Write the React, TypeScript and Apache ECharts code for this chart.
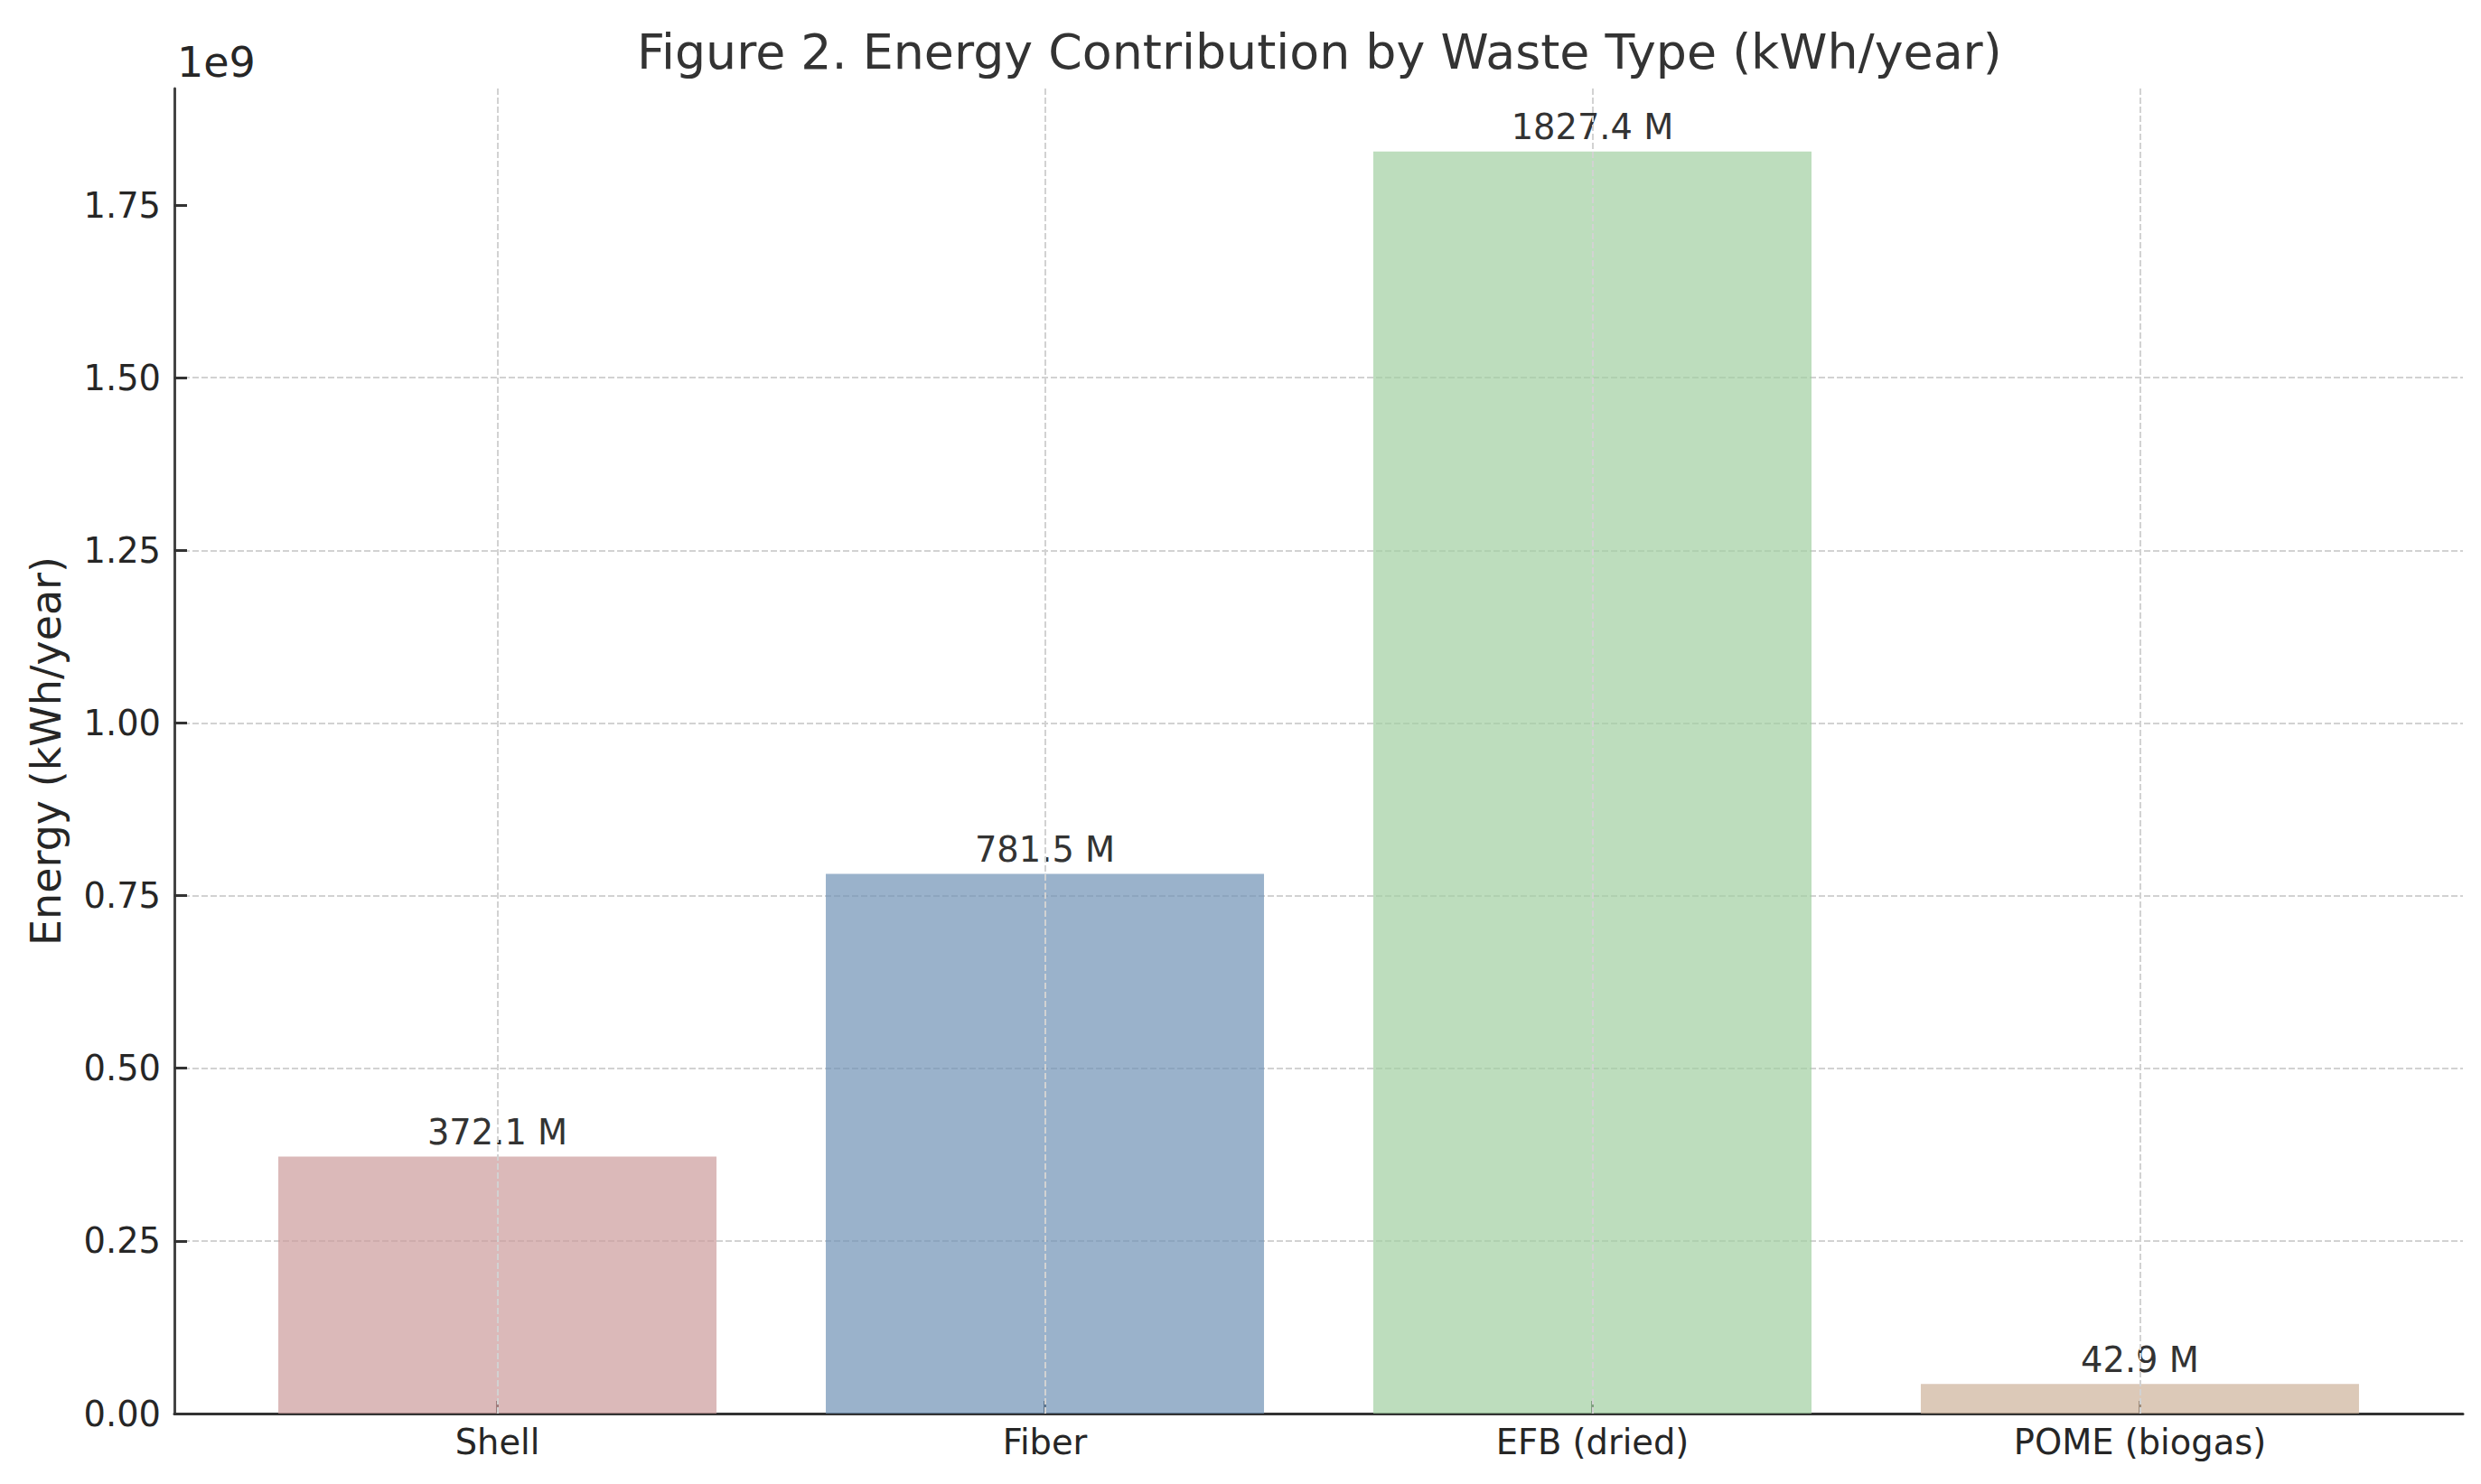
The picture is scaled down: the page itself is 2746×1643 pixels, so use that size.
import React, { useEffect, useRef } from "react";
import * as echarts from "echarts";

const categories = ["Shell", "Fiber", "EFB (dried)", "POME (biogas)"];
const categoryPositions = [0, 1, 2, 3];
const energyKWh = [372.1e6, 781.5e6, 1827.4e6, 42.9e6];
const barColors = [
  "rgba(204,155,155,0.7)",
  "rgba(111,146,181,0.7)",
  "rgba(161,206,161,0.7)",
  "rgba(205,178,154,0.7)",
];
const yTickValues = [0, 0.25e9, 0.5e9, 0.75e9, 1.0e9, 1.25e9, 1.5e9, 1.75e9];

const FONT = "DejaVu Sans";
const TEXT = "#262626";
const SPINE = "#333333";
const GRID = "#d2d2d2";

export default function App() {
  const ref = useRef<HTMLDivElement>(null);

  useEffect(() => {
    if (!ref.current) return;
    const chart = echarts.init(ref.current, null, { renderer: "svg" });
    const yMax = Math.max(...energyKWh) * 1.05;
    chart.setOption({
      animation: false,
      backgroundColor: "#ffffff",
      textStyle: { fontFamily: FONT },
      title: {
        text: "Figure 2. Energy Contribution by Waste Type (kWh/year)",
        left: 700,
        top: 25,
        textStyle: { fontFamily: FONT, fontSize: 53.8, fontWeight: "normal", color: "#333333" },
      },
      graphic: [
        {
          type: "text",
          left: 196,
          top: 46,
          style: { text: "1e9", fontFamily: FONT, fontSize: 46, fill: TEXT },
        },
      ],
      grid: { left: 193, right: 20, top: 98, bottom: 78, containLabel: false },
      xAxis: {
        type: "value",
        min: -0.59,
        max: 3.59,
        axisLine: { show: true, onZero: false, lineStyle: { color: SPINE, width: 3 } },
        axisTick: {
          show: true,
          inside: true,
          length: 14,
          customValues: categoryPositions,
          lineStyle: { color: SPINE, width: 3 },
        },
        axisLabel: {
          customValues: categoryPositions,
          formatter: (v: number) => categories[Math.round(v)] ?? "",
          fontFamily: FONT,
          fontSize: 38.4,
          color: TEXT,
          margin: 12,
        },
        splitLine: { show: false },
      },
      yAxis: {
        type: "value",
        min: 0,
        max: yMax,
        interval: 0.25e9,
        name: "Energy (kWh/year)",
        nameLocation: "middle",
        nameGap: 119,
        nameTextStyle: { fontFamily: FONT, fontSize: 46, color: TEXT },
        axisLine: { show: true, onZero: false, lineStyle: { color: "#444444", width: 3 } },
        axisTick: {
          show: true,
          inside: true,
          length: 14,
          customValues: yTickValues,
          lineStyle: { color: SPINE, width: 3 },
        },
        axisLabel: {
          customValues: yTickValues,
          formatter: (v: number) => (v / 1e9).toFixed(2),
          fontFamily: FONT,
          fontSize: 38.4,
          color: TEXT,
          margin: 15,
        },
        splitLine: {
          show: true,
          showMinLine: false,
          showMaxLine: false,
          lineStyle: { type: [7, 3], color: GRID, width: 2 },
        },
      },
      series: [
        {
          type: "bar",
          barWidth: 485,
          data: energyKWh.map((v, i) => ({
            value: [categoryPositions[i], v],
            itemStyle: { color: barColors[i] },
          })),
          label: {
            show: true,
            position: "top",
            distance: 8,
            fontFamily: FONT,
            fontSize: 38.4,
            color: "#333333",
            formatter: (p: any) => `${(p.value[1] / 1e6).toFixed(1)} M`,
          },
          markLine: {
            silent: true,
            symbol: ["none", "none"],
            label: { show: false },
            lineStyle: { type: [7, 3], color: GRID, width: 2 },
            data: categoryPositions.map((x) => ({ xAxis: x })),
          },
        },
      ],
    });
    return () => chart.dispose();
  }, []);

  return (
    <div
      ref={ref}
      style={{ position: "fixed", left: 0, top: 0, width: 2746, height: 1643, background: "#fff" }}
    />
  );
}
